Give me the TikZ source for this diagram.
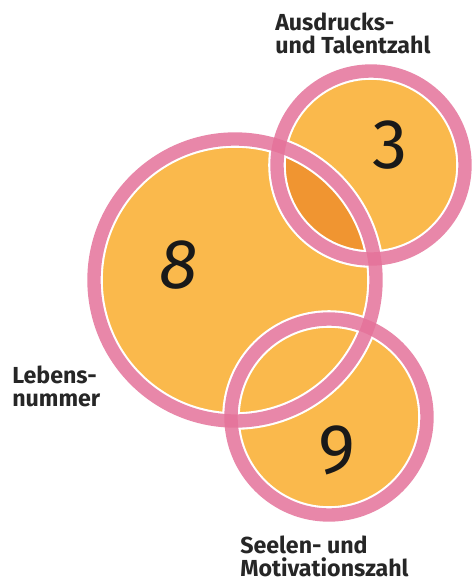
\documentclass[tikz,border=0pt]{standalone}
\usepackage{fontspec}
\setmainfont{Fira Sans}
\usepackage{tikz}

\definecolor{fillorange}{HTML}{FAB94C}
\definecolor{darkorange}{HTML}{F09531}
\definecolor{ringpink}{HTML}{E5739A}

\begin{document}
\begin{tikzpicture}[x=0.025cm, y=-0.025cm,
    caption/.style={font=\bfseries\fontsize{16.5}{15.8}\selectfont, text=black!85, align=left, inner sep=0pt},
    digit/.style={font=\fontsize{50}{50}\selectfont, text=black!90, inner sep=0pt},
    halo/.style={draw=white, line width=12.5pt},
    ring/.style={draw=ringpink, line width=9.5pt, draw opacity=0.85}]
			\useasboundingbox (0,0) rectangle (474,585);

			% Define centres
			\coordinate (c8) at (235,280);
			\coordinate (c3) at (371,165);
			\coordinate (c9) at (329,417);

			% Fill the circles
			\fill[fillorange] (c8) circle (141);
			\fill[fillorange] (c3) circle (94);
			\fill[fillorange] (c9) circle (98);
			\begin{scope}
				\clip (c8) circle (141);
				\fill[darkorange] (c3) circle (94);
			\end{scope}

			% Draw rings
			\draw[halo] (c8) circle (141);
			\draw[halo] (c3) circle (94);
			\draw[halo] (c9) circle (98);
			\draw[ring] (c8) circle (141);
			\draw[ring] (c3) circle (94);
			\draw[ring] (c9) circle (98);

			% Numbers
			\node[digit] (n8) at (179,265) {\itshape 8};
			\node[digit] (n3) at (390,145) {3};
			\node[digit] (n9) at (337,450) {9};

			% Captions
			\node[caption, anchor=base west] (ausdruck) at (275,53) {Ausdrucks-\\und Talentzahl};
			\node[caption, anchor=base west] (lebens) at (12,406) {Lebens-\\nummer};
			\node[caption, anchor=base west] (seelen) at (240,576) {Seelen- und\\Motivationszahl};
		\end{tikzpicture}
\end{document}
